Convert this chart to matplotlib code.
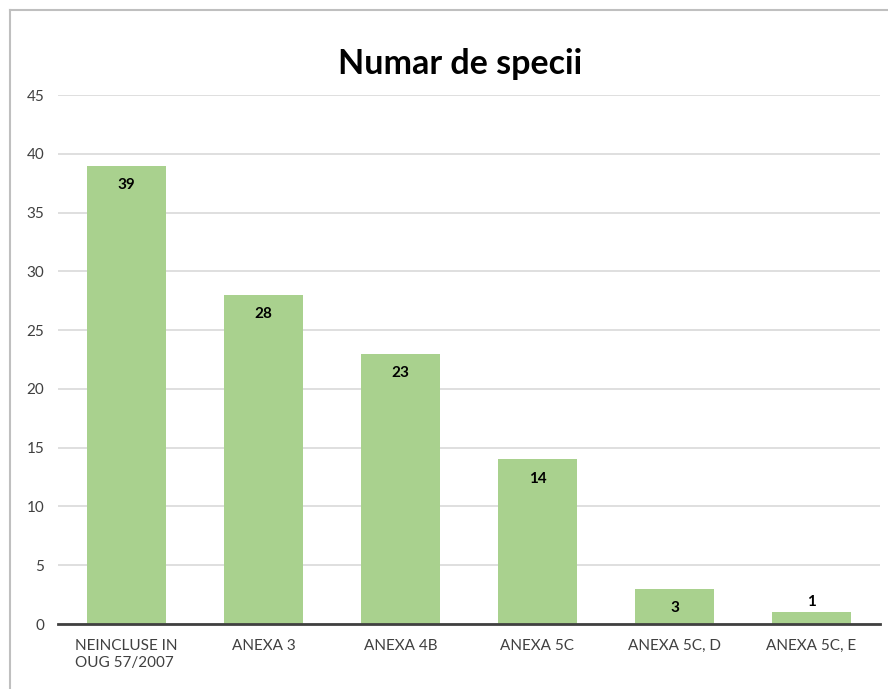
import matplotlib.pyplot as plt
from matplotlib.lines import Line2D

# Category labels and values
categories = ['NEINCLUSE IN\nOUG 57/2007', 'ANEXA 3', 'ANEXA 4B', 'ANEXA 5C', 'ANEXA 5C, D', 'ANEXA 5C, E']
values = [39, 28, 23, 14, 3, 1]

plt.rcParams['font.family'] = ['Lato', 'DejaVu Sans']

fig = plt.figure(figsize=(8.88, 6.89), dpi=100)
ax = fig.add_axes([0.0653, 0.0943, 0.9257, 0.7677])

x = range(len(categories))
bars = ax.bar(x, values, width=0.57, color='#A9D18E', zorder=3)

ax.set_xlim(-0.5, len(categories) - 0.5)
ax.set_ylim(0, 45)
ax.set_yticks(range(0, 46, 5))
ax.set_xticks(list(x))
ax.set_xticklabels(categories)
for lbl in ax.get_xticklabels():
    lbl.set_multialignment('left')

ax.grid(axis='y', color='#D9D9D9', linewidth=1.2, zorder=0)
for s in ['top', 'right', 'left']:
    ax.spines[s].set_visible(False)
ax.spines['bottom'].set_color('#404040')
ax.spines['bottom'].set_linewidth(2)
ax.spines['bottom'].set_zorder(4)
ax.tick_params(axis='both', length=0, labelsize=11, colors='#404040')
ax.tick_params(axis='x', pad=11)
ax.tick_params(axis='y', pad=10)

# value labels inside the top of each bar (above it if the bar is too short)
for rect, v in zip(bars, values):
    cx = rect.get_x() + rect.get_width() / 2
    if v >= 2:
        ax.annotate(str(v), (cx, v), xytext=(0, -9), textcoords='offset points',
                    ha='center', va='top', fontsize=11, fontweight='bold', color='black', zorder=5)
    else:
        ax.annotate(str(v), (cx, v), xytext=(0, 2), textcoords='offset points',
                    ha='center', va='bottom', fontsize=11, fontweight='bold', color='black', zorder=5)

fig.text(0.518, 0.907, 'Numar de specii', ha='center', va='center', fontsize=24.5, fontweight='bold')

# chart border (top and left edges visible)
fig.add_artist(Line2D([0.0113, 0.0113], [0, 0.9855], transform=fig.transFigure, color='#BFBFBF', linewidth=1.5))
fig.add_artist(Line2D([0.0113, 1], [0.9855, 0.9855], transform=fig.transFigure, color='#BFBFBF', linewidth=1.5))

fig.savefig('out.png', dpi=100)
